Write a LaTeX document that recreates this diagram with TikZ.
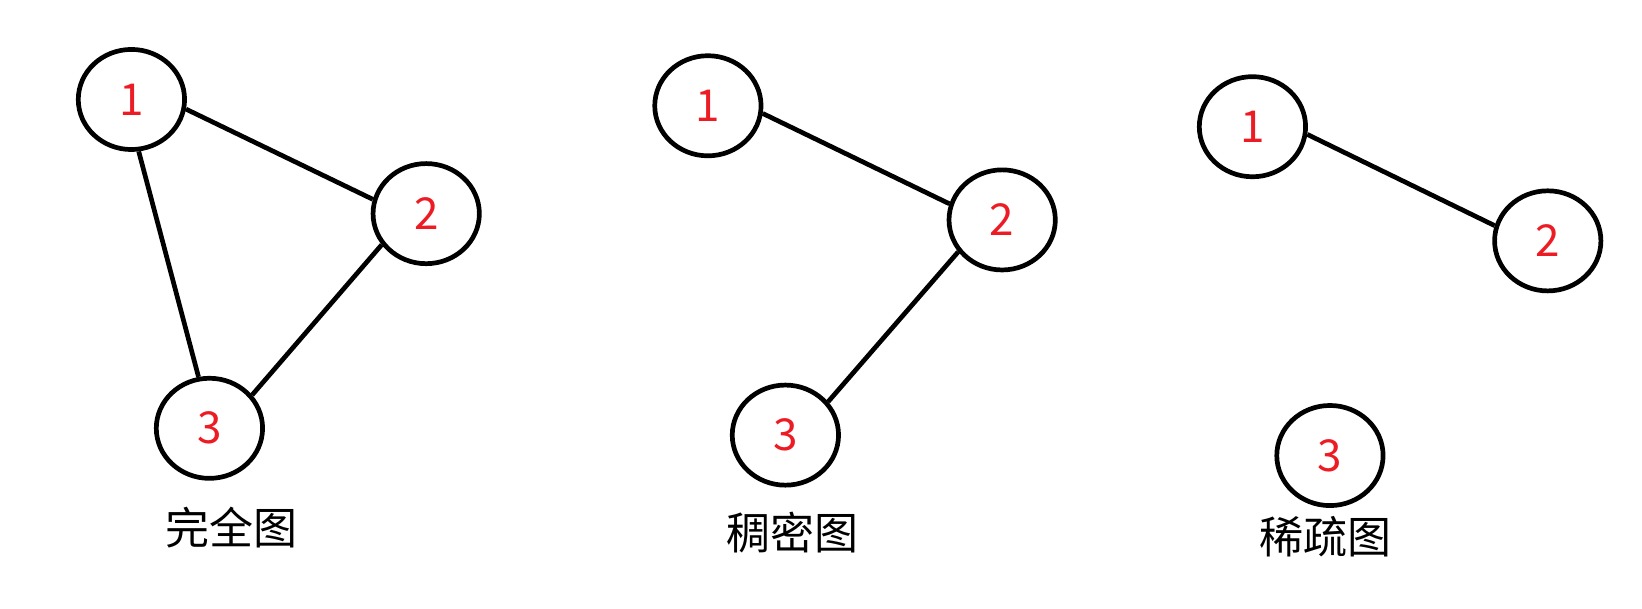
\documentclass[tikz,border=0pt]{standalone}
\usepackage{fontspec}
\setmainfont{Noto Sans CJK SC}
\usetikzlibrary{shapes.geometric}
\definecolor{numred}{RGB}{237,28,36}
\begin{document}
\begin{tikzpicture}[x=1.0472pt,y=-1.0472pt,
  vtx/.style={ellipse,draw=black,line width=4.7pt,minimum width=106.3pt,minimum height=100.1pt,inner sep=0pt,text=numred,font=\fontsize{44}{44}\selectfont},
  edgeline/.style={line width=4.7pt,black},
  gcaption/.style={font=\fontsize{44}{44}\selectfont,text=black,inner sep=0pt}]
\useasboundingbox[fill=white] (0,0) rectangle (1568,581);
% complete graph
\node[vtx] (a1) at (125.5,95) {1};
\node[vtx] (a2) at (407,204) {2};
\node[vtx] (a3) at (200,409) {3};
\draw[edgeline] (a1.-10) -- (a2.165);
\draw[edgeline] (a1.-82) -- (a3.102);
\draw[edgeline] (a2.215) -- (a3.38);
\node[gcaption] (ca) at (221,504) {完全图};
% dense graph
\node[vtx] (b1) at (676,101) {1};
\node[vtx] (b2) at (957,210) {2};
\node[vtx] (b3) at (750,415.5) {3};
\draw[edgeline] (b1.-8) -- (b2.163);
\draw[edgeline] (b2.216) -- (b3.38);
\node[gcaption] (cb) at (757,509) {稠密图};
% sparse graph
\node[vtx] (c1) at (1196,121) {1};
\node[vtx] (c2) at (1478,230) {2};
\node[vtx] (c3) at (1270,435) {3};
\draw[edgeline] (c1.-8.5) -- (c2.164);
\node[gcaption] (cc) at (1266,512) {稀疏图};
\end{tikzpicture}
\end{document}
